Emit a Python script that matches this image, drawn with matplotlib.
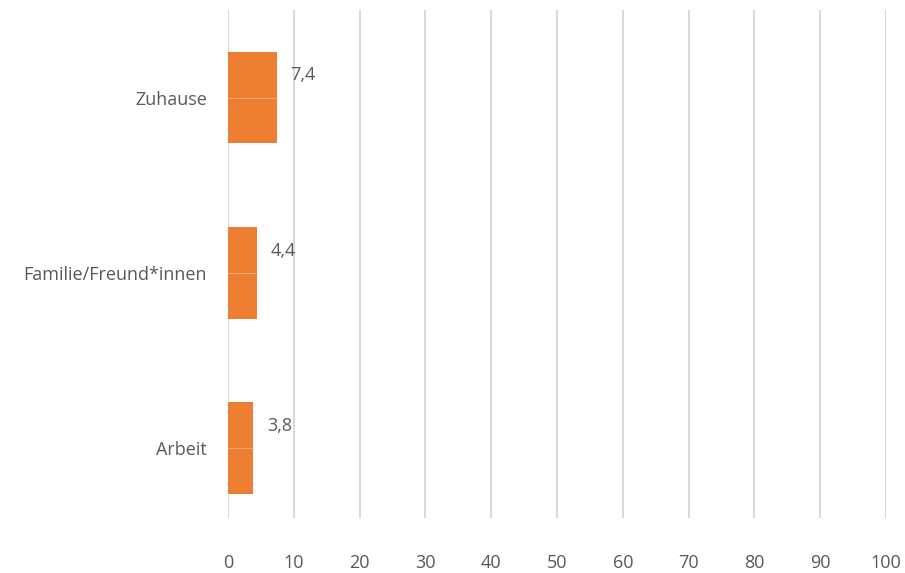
import matplotlib.pyplot as plt
import numpy as np

# ── Data ──────────────────────────────────────────────────────────────────────
categories = ["Arbeit", "Familie/Freund*innen", "Zuhause"]
values = [3.8, 4.4, 7.4]
x_ticks = [0, 10, 20, 30, 40, 50, 60, 70, 80, 90, 100]

BAR_COL = "#ED7D31"
TEXT_COL = "#595959"
GRID_COL = "#D9D9D9"

plt.rcParams["font.family"] = ["Open Sans", "DejaVu Sans"]

fig = plt.figure(figsize=(9.05, 5.73), dpi=100)
ax = fig.add_axes([0.2519, 0.096, 0.979 - 0.2519, 0.8865])

pos = np.arange(len(categories))
ax.barh(pos, values, height=0.524, color=BAR_COL, zorder=3)
# faint seam through the middle of each bar
ax.hlines(pos, 0, values, color="#F4A46E", linewidth=0.8, zorder=4)

for y, v in zip(pos, values):
    ax.annotate(f"{v:.1f}".replace(".", ","), xy=(v, y), xytext=(10, 16),
                textcoords="offset points", ha="left", va="center",
                fontsize=13, color=TEXT_COL)

ax.set_xlim(0, 100)
ax.set_ylim(-0.40, 2.50)
ax.set_xticks(x_ticks)
ax.set_xticklabels([str(t) for t in x_ticks])
ax.set_yticks(pos)
ax.set_yticklabels(categories)
ax.tick_params(axis="x", length=0, pad=26, labelsize=13, labelcolor=TEXT_COL)
ax.tick_params(axis="y", length=0, pad=15, labelsize=13, labelcolor=TEXT_COL)

ax.xaxis.grid(True, color=GRID_COL, linewidth=1.5, zorder=0)
ax.set_axisbelow(True)
for spine in ax.spines.values():
    spine.set_visible(False)

fig.savefig("out.png", dpi=100, facecolor="white")
